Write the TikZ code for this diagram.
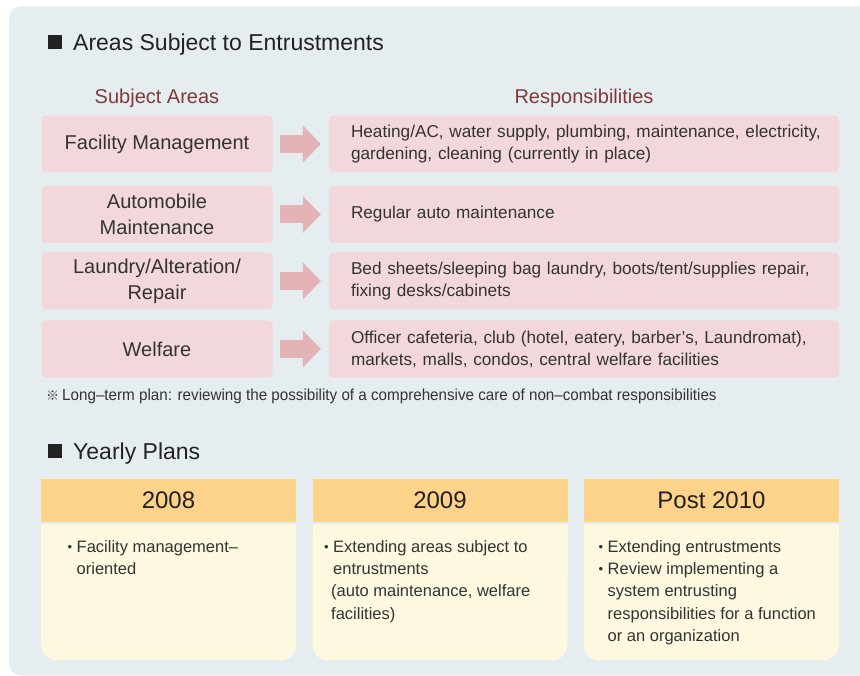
\documentclass[tikz,border=0pt]{standalone}
\usepackage{fontspec}
\setmainfont{Liberation Sans}
\newfontfamily\cjkfont{Noto Sans CJK KR}
\newfontfamily\narrowfont[FakeStretch=0.95]{Liberation Sans}
\usetikzlibrary{arrows.meta}
\definecolor{panel}{HTML}{E6EDF1}
\definecolor{pinkbox}{HTML}{F2D8DA}
\definecolor{arrowc}{HTML}{E4B3B6}
\definecolor{headc}{HTML}{7F3A36}
\definecolor{orangeh}{HTML}{FDD38C}
\definecolor{yellowb}{HTML}{FDF8DF}
\definecolor{txt}{HTML}{333333}
\definecolor{dark}{HTML}{222222}
\tikzset{
  marker/.style={fill=dark, minimum size=14pt, inner sep=0pt},
  heading/.style={anchor=base west, inner sep=0pt, text=dark, font=\fontsize{23}{28}\selectfont},
  colhead/.style={anchor=base, inner sep=0pt, text=headc, font=\fontsize{20}{24}\selectfont},
  leftbox/.style={fill=pinkbox, rounded corners=4pt, minimum width=231pt, minimum height=57pt, inner sep=0pt, align=center, text=txt, font=\fontsize{20}{26}\selectfont},
  rightbox/.style={fill=pinkbox, rounded corners=4pt, minimum width=510pt, text width=466pt, minimum height=57pt, inner xsep=22pt, inner ysep=0pt, align=left, text=txt, font=\fontsize{17.2}{22}\selectfont},
  bigarrow/.style={draw=arrowc, line width=18pt, -{Triangle[length=18pt,width=36pt]}, shorten <=7pt, shorten >=8pt},
  yearhead/.style={fill=orangeh, minimum width=255pt, minimum height=43pt, inner sep=0pt, text=dark, font=\fontsize{24}{28}\selectfont},
  yearbody/.style={fill=yellowb},
  bullettext/.style={anchor=north west, inner sep=0pt, align=left, text=txt, font=\fontsize{16.5}{22.3}\selectfont},
}
\newcommand{\bul}{\makebox[9pt][l]{\raisebox{0.5pt}{\fontsize{13}{13}\selectfont•}}}
\begin{document}
\begin{tikzpicture}[x=1pt,y=-1pt]
\useasboundingbox (0,0) rectangle (860,676);
\clip (0,0) rectangle (860,676);
\fill[panel, rounded corners=12pt] (9,6.5) rectangle (900,675.5);

% ---- section 1
\node[marker] (sq1) at (55,42.5) {};
\node[heading] (title1) at (73,51) {Areas Subject to Entrustments};
\node[colhead] (ch1) at (157,103.5) {Subject Areas};
\node[colhead] (ch2) at (584,103.5) {Responsibilities};

\node[leftbox] (l1) at (157,144) {Facility Management};
\node[leftbox] (l2) at (157,214.5) {Automobile\\Maintenance};
\node[leftbox] (l3) at (157,281) {Laundry/Alteration/\\Repair};
\node[leftbox] (l4) at (157,349) {Welfare};

\node[rightbox] (r1) at (584,144) {\mbox{Heating/AC, water supply, plumbing, maintenance, electricity,}\\\mbox{gardening, cleaning (currently in place)}};
\node[rightbox] (r2) at (584,214.5) {\mbox{Regular auto maintenance}};
\node[rightbox] (r3) at (584,281) {\mbox{Bed sheets/sleeping bag laundry, boots/tent/supplies repair,}\\\mbox{fixing desks/cabinets}};
\node[rightbox] (r4) at (584,349) {\mbox{Officer cafeteria, club (hotel, eatery, barber’s, Laundromat),}\\\mbox{markets, malls, condos, central welfare facilities}};

\draw[bigarrow] (l1) -- (r1);
\draw[bigarrow] (l2) -- (r2);
\draw[bigarrow] (l3) -- (r3);
\draw[bigarrow] (l4) -- (r4);

\node[anchor=base west, inner sep=0pt, text=txt, font=\fontsize{16}{18}\narrowfont] (note) at (46,400.5) {{\cjkfont\fontsize{13}{13}\selectfont ※}\hspace{3pt}Long–term plan: reviewing the possibility of a comprehensive care of non–combat responsibilities};

% ---- section 2
\node[marker] (sq2) at (55,451) {};
\node[heading] (title2) at (73,459) {Yearly Plans};

\node[yearhead] (h1) at (168.5,500.5) {2008};
\node[yearhead] (h2) at (440,500.5) {2009};
\node[yearhead] (h3) at (711.5,500.5) {Post 2010};

\fill[yearbody, rounded corners=15pt] (41,524) rectangle (296,660);
\fill[yearbody] (41,524) rectangle (296,570);
\fill[yearbody, rounded corners=15pt] (312.5,524) rectangle (567.5,660);
\fill[yearbody] (312.5,524) rectangle (567.5,570);
\fill[yearbody, rounded corners=15pt] (584,524) rectangle (839,660);
\fill[yearbody] (584,524) rectangle (839,570);

\node[bullettext] (b1) at (67.5,540) {\bul Facility management–\\\hspace*{9pt}oriented};
\node[bullettext] (b2) at (324,540) {\bul Extending areas subject to\\\hspace*{9pt}entrustments\\\hspace*{7pt}(auto maintenance, welfare\\\hspace*{7pt}facilities)};
\node[bullettext] (b3) at (598.5,540) {\bul Extending entrustments\\\bul Review implementing a\\\hspace*{9pt}system entrusting\\\hspace*{9pt}responsibilities for a function\\\hspace*{9pt}or an organization};
\end{tikzpicture}
\end{document}
